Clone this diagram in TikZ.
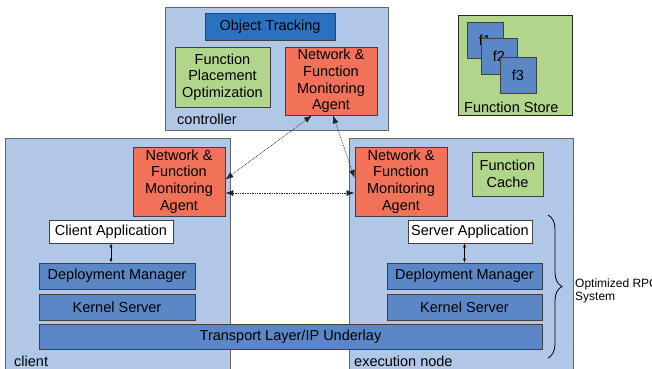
\documentclass[tikz,border=0pt]{standalone}
\usepackage{fontspec}
\setmainfont{Liberation Sans}
\usepackage{xcolor}
\usepackage{tikz}
\usetikzlibrary{arrows.meta, positioning, decorations.pathreplacing}
\definecolor{panelblue}{HTML}{B0C7E8}
\definecolor{trackblue}{HTML}{2A72C0}
\definecolor{layerblue}{HTML}{5B87C6}
\definecolor{agentred}{HTML}{F27159}
\definecolor{funcgreen}{HTML}{B0D58B}

\begin{document}
\begin{tikzpicture}[
      x=1pt, y=-1pt,
      panel/.style={rectangle, draw=black!60, fill=panelblue, line width=0.8pt, anchor=north west, inner sep=0pt},
      box/.style={rectangle, draw=black!75, line width=0.8pt, align=center, inner sep=0pt, font=\fontsize{14.5}{16.6}\selectfont},
      agent/.style={box, fill=agentred, minimum width=92pt, minimum height=69pt},
      layer/.style={box, fill=layerblue, minimum width=156pt, minimum height=26pt},
      app/.style={box, fill=white, minimum width=124pt, minimum height=23pt},
      fbox/.style={box, fill=layerblue, minimum width=36pt, minimum height=36pt},
      tag/.style={anchor=west, inner sep=0pt, font=\fontsize{14.5}{16.6}\selectfont},
      link/.style={densely dotted, line width=0.7pt, black!85, {Latex[length=8pt,width=6pt]}-{Latex[length=8pt,width=6pt]}},
      stack/.style={line width=0.6pt, {Latex[length=4pt,width=3pt]}-{Latex[length=4pt,width=3pt]}}
    ]
      \useasboundingbox (0,0) rectangle (652,368);

      % Panels
      \node[panel, minimum width=223pt, minimum height=123pt] (ctrl) at (165,7) {};
      \node[panel, draw=black!85, fill=funcgreen, minimum width=114pt, minimum height=100pt] (store) at (458,15) {};
      \node[panel, minimum width=225pt, minimum height=240pt] (client) at (5,138) {};
      \node[panel, minimum width=224pt, minimum height=240pt] (exec) at (349,138) {};

      % Controller
      \node[box, fill=trackblue, minimum width=130pt, minimum height=27pt] (track) at (270,26.5) {Object Tracking};
      \node[box, fill=funcgreen, minimum width=95pt, minimum height=60pt] (place) at (222.5,77) {Function\\Placement\\Optimization};
      \node[agent, minimum height=68pt] (ctrlagent) at (331,81) {Network \&\\Function\\Monitoring\\Agent};
      \node[tag] (ctrllbl) at (177,119.5) {controller};

      % Function store
      \node[fbox] (f1) at (485,40) {f1};
      \node[fbox] (f2) at (499,56.5) {f2};
      \node[fbox] (f3) at (518,75) {f3};
      \node[tag] (storelbl) at (464,107) {Function Store};

      % Client side
      \node[agent] (clientagent) at (179,181.5) {Network \&\\Function\\Monitoring\\Agent};
      \node[app] (clientapp) at (111,231.5) {Client Application};
      \node[layer] (clientdm) at (117,276) {Deployment Manager};
      \node[layer, below=5pt of clientdm] (clientks) {Kernel Server};
      \node[tag] (clientlbl) at (14,361) {client};

      % Execution node side
      \node[agent] (execagent) at (401,181.5) {Network \&\\Function\\Monitoring\\Agent};
      \node[box, fill=funcgreen, minimum width=71pt, minimum height=44pt] (cache) at (507.5,174) {Function\\Cache};
      \node[app] (serverapp) at (470,231.5) {Server Application};
      \node[layer, minimum width=155pt] (execdm) at (464.5,276) {Deployment Manager};
      \node[layer, minimum width=155pt, below=5pt of execdm] (execks) {Kernel Server};
      \node[tag] (execlbl) at (354,361) {execution node};

      % Shared transport
      \node[layer, minimum width=503pt, minimum height=25pt] (transport) at (290.5,336.5) {Transport Layer/IP Underlay};

      % Monitoring links
      \draw[link] ([xshift=-19pt]ctrlagent.south) -- ([yshift=2pt]clientagent.east);
      \draw[link] ([xshift=2pt]ctrlagent.south) -- ([yshift=3.5pt]execagent.west);
      \draw[link] ([yshift=-11.5pt]clientagent.east) -- ([yshift=-11.5pt]execagent.west);

      % App <-> deployment manager
      \draw[stack] (clientapp) -- (clientapp |- clientdm.north);
      \draw[stack] (serverapp.south -| execdm) -- (execdm);

      % RPC brace
      \coordinate (bracetop) at (548,215);
      \coordinate (bracebot) at (548,358);
      \draw[line width=0.8pt, decorate, decoration={brace, amplitude=14pt}] (bracetop) -- (bracebot);
      \node[anchor=west, inner sep=0pt, align=left, font=\fontsize{12}{13}\selectfont] (rpclbl) at (575,291) {Optimized RPC\\System};

    \end{tikzpicture}
\end{document}
